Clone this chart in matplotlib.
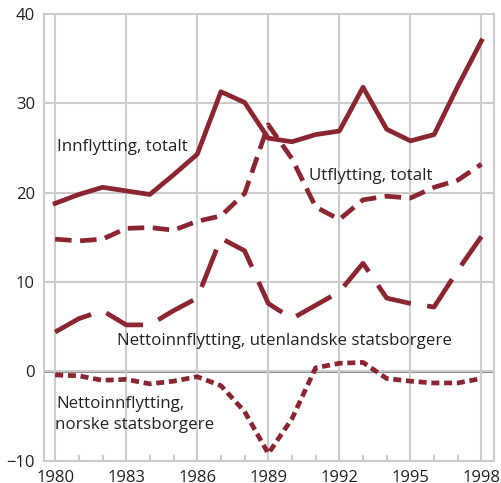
import matplotlib
matplotlib.use("Agg")
import matplotlib.pyplot as plt
from matplotlib.ticker import MultipleLocator

years = list(range(1980, 1999))
innflytting = [18.8, 19.8, 20.6, 20.2, 19.8, 22.0, 24.3, 31.3, 30.1, 26.1, 25.7, 26.5, 26.9, 31.8, 27.1, 25.8, 26.5, 31.9, 37.0]
utflytting = [14.8, 14.6, 14.8, 16.0, 16.1, 15.8, 16.8, 17.4, 19.9, 27.6, 23.8, 18.4, 17.0, 19.2, 19.6, 19.4, 20.6, 21.4, 23.2]
netto_utenl = [4.4, 5.9, 6.8, 5.2, 5.2, 6.8, 8.2, 14.9, 13.5, 7.6, 5.9, 7.4, 8.9, 12.1, 8.2, 7.6, 7.2, 11.3, 15.1]
netto_norske = [-0.4, -0.5, -1.0, -0.9, -1.4, -1.1, -0.6, -1.6, -4.5, -9.2, -5.3, 0.4, 0.9, 1.0, -0.8, -1.1, -1.3, -1.3, -0.8]

xticks = [1980, 1983, 1986, 1989, 1992, 1995, 1998]
yticks = [-10, 0, 10, 20, 30, 40]

plt.rcParams['font.family'] = ['Open Sans', 'DejaVu Sans']
RED = '#8B2530'
GRID = '#cccccc'

fig = plt.figure(figsize=(5.02, 4.83), dpi=100)
ax = fig.add_axes([44/502, 1-460.7/483, (494-44)/502, (460.7-14)/483])
ax.set_xlim(1979.53, 1998.53)
ax.set_ylim(-10, 40)

ax.set_xticks(xticks)
ax.set_yticks(yticks)
ax.xaxis.set_minor_locator(MultipleLocator(1))
ax.grid(True, color=GRID, linewidth=1.5, zorder=0)
ax.axhline(0, color='#808080', linewidth=2, zorder=1)
for s in ax.spines.values():
    s.set_color(GRID)
    s.set_linewidth(1.5)
ax.tick_params(axis='x', which='major', length=0, pad=6.5, labelsize=12, colors='#222222')
ax.tick_params(axis='x', which='minor', direction='in', length=4.5, width=1.5, color=GRID)
ax.tick_params(axis='y', length=0, pad=6.5, labelsize=12, colors='#222222')

lw = 3.4
ax.plot(years, innflytting, color=RED, lw=lw, solid_joinstyle='round', zorder=3)
ax.plot(years, utflytting, color=RED, lw=lw, dashes=(3.5, 1.8), zorder=3)
ax.plot(years, netto_utenl, color=RED, lw=lw, dashes=(8.5, 3.5), zorder=3)
ax.plot(years, netto_norske, color=RED, lw=lw, dashes=(1.7, 1.0), zorder=3)

tc = '#222222'
kw = dict(fontsize=12.2, color=tc, va='baseline')
ax.text(1980.08, 24.64, 'Innflytting, totalt', **kw)
ax.text(1990.72, 21.47, 'Utflytting, totalt', **kw)
ax.text(1982.61, 2.91, 'Nettoinnflytting, utenlandske statsborgere', **kw)
ax.text(1980.04, -4.07, 'Nettoinnflytting,', **kw)
ax.text(1980.0, -6.4, 'norske statsborgere', **kw)

fig.savefig('out.png', dpi=100)
